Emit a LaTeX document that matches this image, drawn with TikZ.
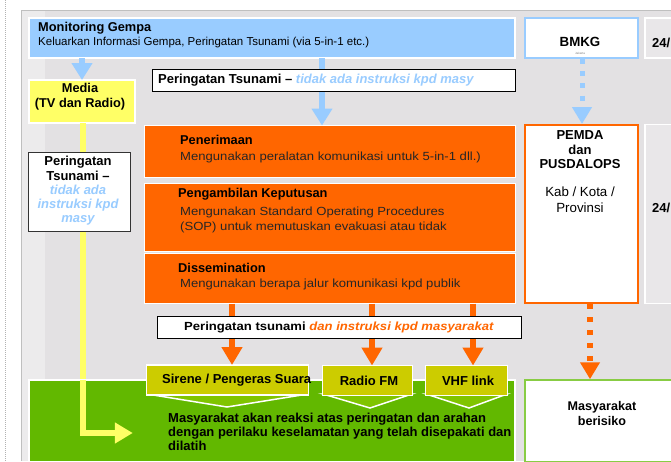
\documentclass[tikz,border=0pt]{standalone}
\usepackage{fontspec}
\setmainfont{Liberation Sans}
\newfontfamily\widefont[FakeStretch=1.11]{Liberation Sans}
\usetikzlibrary{arrows.meta}
\newcommand\myfs[2]{\fontsize{#1}{#2}\selectfont}
\definecolor{panel}{HTML}{E3E1E3}
\definecolor{panellight}{HTML}{ECEBEC}
\definecolor{lblue}{HTML}{99CCFF}
\definecolor{myell}{HTML}{FFFF66}
\definecolor{morange}{HTML}{FF6600}
\definecolor{olive}{HTML}{CCCC00}
\definecolor{mgreen}{HTML}{62B800}
\definecolor{lgreen}{HTML}{80C400}
\definecolor{bordergreen}{HTML}{88CC44}
\definecolor{side}{HTML}{E9E7E9}
\begin{document}
\begin{tikzpicture}[x=1pt,y=-1pt,
  box/.style={draw=white, line width=1.5pt, inner sep=0pt, outer sep=0pt},
  lbl/.style={inner sep=0pt, anchor=west, text=black},
  ttl/.style={lbl, font=\myfs{12.8}{15}\bfseries},
  bdy/.style={lbl, font=\myfs{11.5}{14}},
  obdy/.style={lbl, font=\myfs{11.8}{14}\widefont, text=black!85},
  ctr/.style={inner sep=0pt, align=center, text=black},
  wbox/.style={draw=black, line width=0.8pt, fill=white, inner sep=0pt},
  bluearrow/.style={draw=lblue, line width=6pt, -{Triangle[width=20pt,length=17pt]}},
  orarrow/.style={draw=morange, line width=6pt, -{Triangle[width=20pt,length=18pt]}},
  yelarrow/.style={draw=myell, line width=6pt, -{Triangle[width=20pt,length=18pt]}},
]
\useasboundingbox (0,0) rectangle (671,461);
\clip (0,0) rectangle (671,461);
\fill[white] (0,0) rectangle (671,461);
\draw[gray!60, line width=0.8pt, dash pattern=on 1pt off 1pt] (5,0) -- (5,461);
\fill[panel] (21,10) rectangle (671,461);
\fill[panellight] (21,10) rectangle (45,461);
\draw[gray!50, line width=0.8pt] (21,461) -- (21,10) -- (671,10);

% top row
\node[box, fill=lblue, minimum width=486pt, minimum height=40pt] (mon) at (272,38) {};
\node[ttl] (monT) at (38,28) {Monitoring Gempa};
\node[bdy] (monB) at (38,43) {Keluarkan Informasi Gempa, Peringatan Tsunami (via 5-in-1 etc.)};
\node[draw=lblue, line width=1.5pt, fill=white, minimum width=113pt, minimum height=40pt, inner sep=0pt] (bmkg) at (581.5,38) {};
\node[ctr, font=\myfs{13.3}{15}\bfseries] (bmkgT) at (580,42) {BMKG};
\node[ctr, font=\myfs{3}{3}, text=gray] (bmkgS) at (580,53) {Jakarta};
\node[box, fill=side, minimum width=32pt, minimum height=40pt] (h24a) at (661,38) {};
\node[lbl, font=\myfs{13}{15}\bfseries] (h24aT) at (652,43) {24/};

% media
\node[box, fill=myell, minimum width=106pt, minimum height=43pt] (media) at (82,101.5) {};
\node[ctr, font=\myfs{12.8}{14.5}\bfseries] (mediaT) at (80,96.5) {Media\\(TV dan Radio)};

% orange process boxes
\node[box, fill=morange, minimum width=371pt, minimum height=52pt] (pen) at (330,151.5) {};
\node[ttl] (penT) at (180,140) {Penerimaan};
\node[obdy] (penB) at (180,157) {Mengunakan peralatan komunikasi untuk 5-in-1 dll.)};
\node[box, fill=morange, minimum width=371pt, minimum height=68pt] (kep) at (330,217.5) {};
\node[ttl] (kepT) at (178,194) {Pengambilan Keputusan};
\node[obdy] (kepB1) at (180,212) {Mengunakan Standard Operating Procedures};
\node[obdy] (kepB2) at (180,227) {(SOP) untuk memutuskan evakuasi atau tidak};
\node[box, fill=morange, minimum width=371pt, minimum height=50pt] (dis) at (330,278.5) {};
\node[ttl] (disT) at (178,268) {Dissemination};
\node[obdy] (disB) at (180,284) {Mengunakan berapa jalur komunikasi kpd publik};

% blue arrows (behind the warning box)
\draw[bluearrow] (82,0 |- mon.south) -- (82,0 |- media.north);
\draw[bluearrow] (322,0 |- mon.south) -- (322,0 |- pen.north);

% top warning
\node[wbox, minimum width=363pt, minimum height=22pt] (warn1) at (333.5,80) {};
\node[lbl, font=\myfs{13}{15}\bfseries] (warn1T) at (158,80.5) {Peringatan Tsunami -- \textcolor{lblue}{\itshape tidak ada instruksi kpd masy}};

% yellow path (behind left box)
\coordinate (ycorner) at (83,433);
\node[inner sep=0pt, minimum size=0pt] (ytarget) at (133,433) {};
\draw[yelarrow] (media.south -| ycorner) -- (ycorner) -- (ytarget);

% left warning
\node[draw=gray!40!black, line width=0.8pt, fill=white, minimum width=102pt, minimum height=79pt, inner sep=0pt] (warn2) at (79,191.5) {};
\node[ctr, font=\myfs{13}{14.3}\bfseries] (warn2T) at (78,191) {Peringatan\\Tsunami --\\\textcolor{lblue}{\itshape tidak ada}\\\textcolor{lblue}{\itshape instruksi kpd}\\\textcolor{lblue}{\itshape masy}};

% PEMDA
\node[draw=morange, line width=2pt, fill=white, minimum width=113pt, minimum height=178pt, inner sep=0pt] (pemda) at (581.5,214) {};
\node[ctr, font=\myfs{13}{14.5}\bfseries] (pemdaT) at (580,150) {PEMDA\\dan\\PUSDALOPS};
\node[ctr, font=\myfs{13.3}{16}] (pemdaS) at (580,200) {Kab / Kota /\\Provinsi};
\node[box, fill=side, minimum width=32pt, minimum height=179pt] (h24b) at (661,214) {};
\node[lbl, font=\myfs{13}{15}\bfseries] (h24bT) at (652,208) {24/};

% dotted arrows
\draw[draw=lblue, line width=5pt, dash pattern=on 5pt off 7.3pt, -{Triangle[width=19pt,length=17pt]}] (582,0 |- bmkg.south) -- (582,0 |- pemda.north);

% green region
\node[box, fill=mgreen, minimum width=486pt, minimum height=82pt] (green) at (272,421) {};
\node[draw=bordergreen, line width=1.5pt, fill=white, minimum width=160pt, minimum height=82pt, inner sep=0pt] (risk) at (605,421) {};
\node[ctr, font=\myfs{12.6}{15}\bfseries] (riskT) at (602,413) {Masyarakat\\berisiko};
\draw[draw=morange, line width=5.5pt, dash pattern=on 5pt off 8pt, -{Triangle[width=19pt,length=17pt]}] (590,0 |- pemda.south) -- (590,0 |- risk.north);

% yellow arrow on green (redraw part on top)
\draw[yelarrow] (83,380) -- (ycorner) -- (ytarget);

\node[lbl, align=left, font=\myfs{13}{14.3}\bfseries] (greenT) at (168,432) {Masyarakat akan reaksi atas peringatan dan arahan\\dengan perilaku keselamatan yang telah disepakati dan\\dilatih};

% channel boxes
\fill[lgreen, draw=white, line width=1.5pt] (147,394) -- (308,394) -- (227,407) -- cycle;
\fill[lgreen, draw=white, line width=1.5pt] (323,394) -- (412,394) -- (370,408) -- cycle;
\fill[lgreen, draw=white, line width=1.5pt] (426,394) -- (507,394) -- (469,408) -- cycle;
\node[box, fill=olive, minimum width=162pt, minimum height=30pt] (sir) at (227.5,380) {};
\node[box, fill=olive, minimum width=90pt, minimum height=30pt] (rad) at (367.5,380.5) {};
\node[box, fill=olive, minimum width=82pt, minimum height=30pt] (vhf) at (466.5,380.5) {};
\node[lbl, font=\myfs{13}{15}\bfseries] (sirT) at (162,380) {Sirene / Pengeras Suara};
\node[ctr, font=\myfs{13}{15}\bfseries] (radT) at (369,381) {Radio FM};
\node[ctr, font=\myfs{13}{15}\bfseries] (vhfT) at (468,381) {VHF link};

% orange arrows
\draw[orarrow] (232,0 |- dis.south) -- (232,0 |- sir.north);
\draw[orarrow] (372,0 |- dis.south) -- (372,0 |- rad.north);
\draw[orarrow] (473,0 |- dis.south) -- (473,0 |- vhf.north);

% bottom warning
\node[wbox, minimum width=364pt, minimum height=22pt] (warn3) at (339,327) {};
\node[lbl, font=\myfs{11.8}{15}\bfseries\widefont] (warn3T) at (184,327.5) {Peringatan tsunami \textcolor{morange}{\itshape dan instruksi kpd masyarakat}};
\end{tikzpicture}
\end{document}
